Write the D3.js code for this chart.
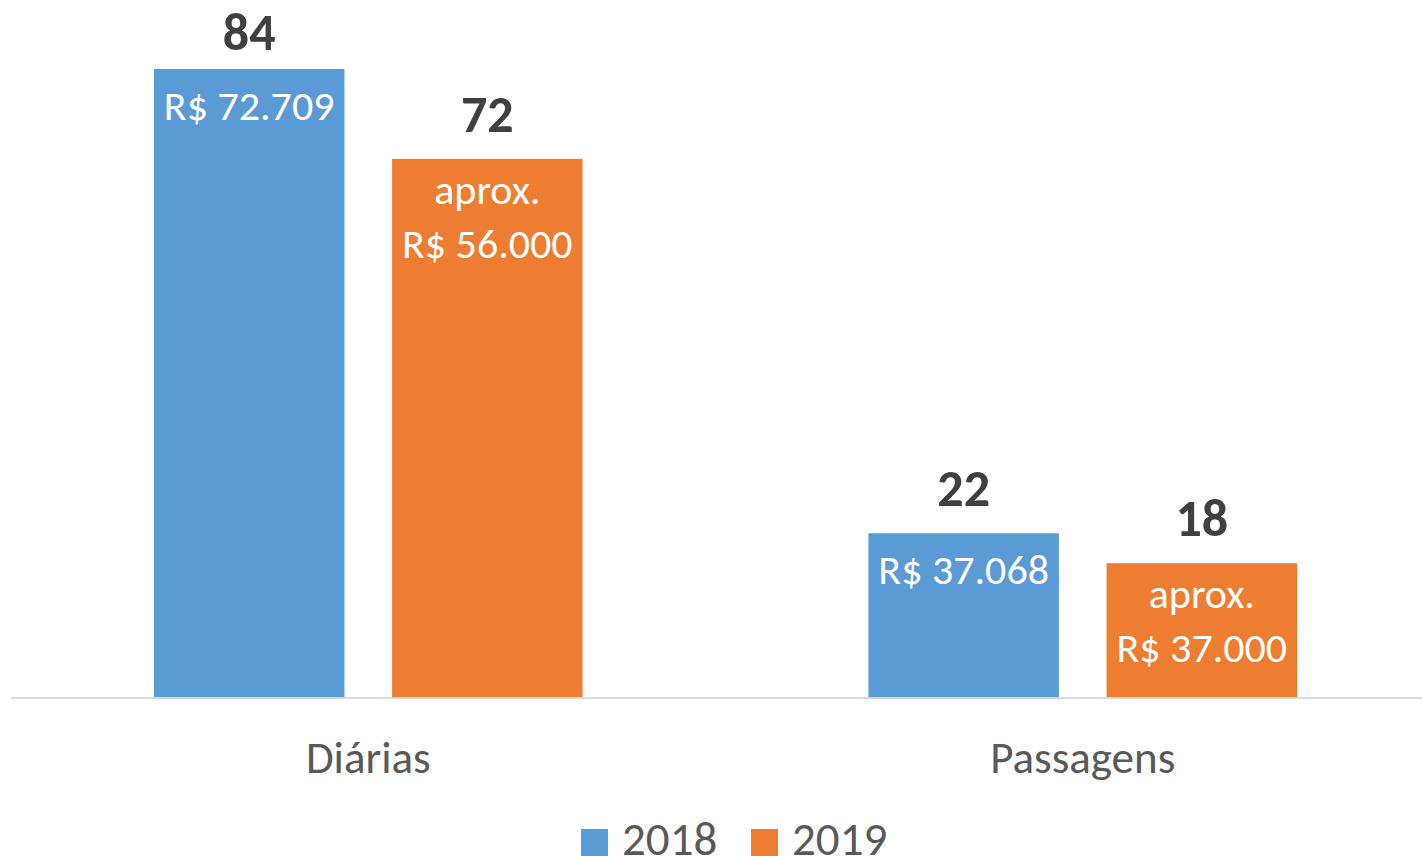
<!DOCTYPE html>
<html>
<head>
<meta charset="utf-8">
<script src="https://cdn.jsdelivr.net/npm/d3@7"></script>
<style>
  body { margin: 0; background: #fff; }
  text { font-family: Carlito, Calibri, Lato, sans-serif; }
</style>
</head>
<body>
<script>
// chart data
const categories = ['Diárias', 'Passagens']
const years = ['2018', '2019']
const values2018 = [84, 22]
const values2019 = [72, 18]
const amounts2018 = [['R$ 72.709'], ['R$ 37.068']]
const amounts2019 = [['aprox.', 'R$ 56.000'], ['aprox.', 'R$ 37.000']]

const colors = { '2018': '#5B9BD5', '2019': '#ED7D31' }

const W = 1422, H = 856
const base = 698

const rows = categories.flatMap((cat, i) => [
  { cat, year: '2018', value: values2018[i], lines: amounts2018[i] },
  { cat, year: '2019', value: values2019[i], lines: amounts2019[i] }
])

const svg = d3.select('body').append('svg')
  .attr('width', W).attr('height', H)

const x0 = d3.scaleBand().domain(categories).range([11, 1440])
const x1 = d3.scaleBand().domain(years).range([0, x0.bandwidth()])
  .paddingInner(0.2).paddingOuter(0.6)
const y = d3.scaleLinear()
  .domain([0, d3.max(rows, d => d.value)])
  .range([base, 69])

// bars
const bar = svg.append('g').selectAll('g')
  .data(rows)
  .join('g')
  .attr('transform', d => `translate(${x0(d.cat) + x1(d.year)},0)`)

bar.append('rect')
  .attr('y', d => y(d.value))
  .attr('width', x1.bandwidth())
  .attr('height', d => base - y(d.value))
  .attr('fill', d => colors[d.year])

// count labels above bars (kept inside the top edge, like excel does)
bar.append('text')
  .attr('x', x1.bandwidth() / 2)
  .attr('y', d => Math.max(y(d.value) - 27, 50))
  .attr('text-anchor', 'middle')
  .attr('font-size', 52)
  .attr('font-weight', 'bold')
  .attr('fill', '#404040')
  .text(d => d.value)

// amount labels inside bars
bar.append('text')
  .attr('text-anchor', 'middle')
  .attr('font-size', 42)
  .attr('fill', '#fff')
  .selectAll('tspan')
  .data(d => d.lines.map((l, i) => ({ l, i, n: d.lines.length, top: y(d.value) })))
  .join('tspan')
  .attr('x', x1.bandwidth() / 2)
  .attr('y', t => t.top + (t.n === 1 ? 51 : 45 + t.i * 54))
  .text(t => t.l)

// axis line
svg.append('line')
  .attr('x1', 11).attr('x2', W)
  .attr('y1', base).attr('y2', base)
  .attr('stroke', '#D9D9D9').attr('stroke-width', 2)

// category labels
svg.append('g').selectAll('text')
  .data(categories)
  .join('text')
  .attr('x', d => x0(d) + x0.bandwidth() / 2)
  .attr('y', 773)
  .attr('text-anchor', 'middle')
  .attr('font-size', 45)
  .attr('fill', '#595959')
  .text(d => d)

// legend
const legend = svg.append('g').selectAll('g')
  .data(years)
  .join('g')
  .attr('transform', (d, i) => `translate(${581 + i * 170},0)`)

legend.append('rect')
  .attr('y', 829).attr('width', 27).attr('height', 27)
  .attr('fill', d => colors[d])

legend.append('text')
  .attr('x', 41).attr('y', 855)
  .attr('font-size', 47)
  .attr('fill', '#595959')
  .text(d => d)
</script>
</body>
</html>
